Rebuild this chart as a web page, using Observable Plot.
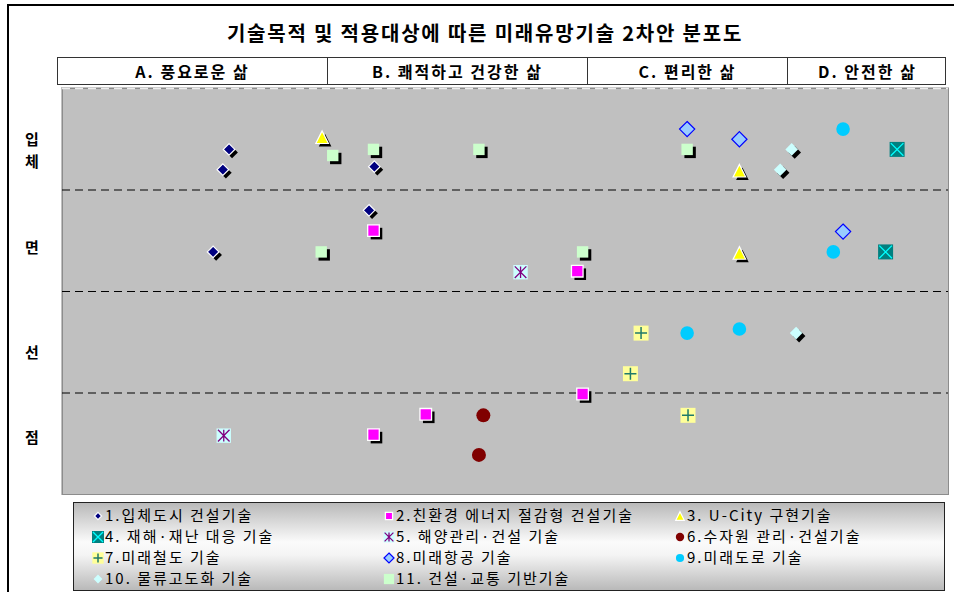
<!DOCTYPE html>
<html><head><meta charset="utf-8">
<script src="https://cdn.jsdelivr.net/npm/d3@7"></script>
<script src="https://cdn.jsdelivr.net/npm/@observablehq/plot@0.6"></script>
<style>
body{margin:0;background:#fff;font-family:"Noto Sans CJK KR","Noto Sans",sans-serif;color:#000;}
#wrap{position:relative;width:954px;height:592px;overflow:hidden;}
#frame{position:absolute;left:7px;top:4px;width:960px;height:600px;border-left:2px solid #000;border-top:2px solid #000;}
#title{position:absolute;left:5px;width:960px;top:20px;line-height:26px;text-align:center;font-weight:bold;font-size:20px;letter-spacing:1.8px;}
#header{position:absolute;left:57px;top:57px;width:889px;height:28px;border:1.5px solid #333;box-sizing:border-box;background:#fff;}
.cell{position:absolute;top:0;height:100%;display:flex;align-items:center;justify-content:center;font-weight:bold;font-size:16px;letter-spacing:2px;border-left:1.5px solid #333;box-sizing:border-box;}
.cell:first-child{border-left:none;}
.side{position:absolute;left:22px;width:20px;text-align:center;font-weight:bold;font-size:15px;line-height:18px;}
#plot{position:absolute;left:61px;top:87px;}
#legend{position:absolute;left:73px;top:502px;width:872px;height:89px;box-sizing:border-box;border:1.5px solid #222;background:linear-gradient(to bottom,#b9b9b9 0%,#fbfbfb 45%,#f4f4f4 60%,#b9b9b9 100%);}
#legend svg{position:absolute;left:0;top:0;}
</style></head>
<body><div id="wrap">
<div id="frame"></div>
<div id="title"></div>
<div id="header"></div>
<div id="sides"></div>
<div id="plot"></div>
<div id="legend"></div>
</div>
<script>
// ---- data ----
const title = "기술목적 및 적용대상에 따른 미래유망기술 2차안 분포도";
const purposes = ["A. 풍요로운 삶", "B. 쾌적하고 건강한 삶", "C. 편리한 삶", "D. 안전한 삶"];
const targets = ["입체", "면", "선", "점"];
const seriesNames = [
  "1.입체도시 건설기술", "2.친환경 에너지 절감형 건설기술", "3. U-City 구현기술",
  "4. 재해·재난 대응 기술", "5. 해양관리·건설 기술", "6.수자원 관리·건설기술",
  "7.미래철도 기술", "8.미래항공 기술", "9.미래도로 기술",
  "10. 물류고도화 기술", "11. 건설·교통 기반기술"
];
const bandBreaks = [1, 2, 3];
const s1 = [[18.8,3.40],[18.1,3.20],[35.2,3.23],[34.6,2.80],[17.0,2.39]];
const s2 = [[35.1,2.60],[58.1,2.20],[41.0,0.79],[35.1,0.59],[58.7,0.99]];
const s3 = [[29.3,3.52],[76.4,3.19],[76.4,2.38]];
const s4 = [[94.2,3.40],[92.9,2.39]];
const s5 = [[51.7,2.19],[18.2,0.58]];
const s6 = [[47.5,0.78],[47.0,0.39]];
const s7 = [[65.3,1.59],[64.1,1.19],[70.6,0.78]];
const s8 = [[70.5,3.60],[76.4,3.50],[88.1,2.59]];
const s9 = [[88.1,3.60],[87.0,2.39],[70.5,1.59],[76.4,1.63]];
const s10 = [[82.3,3.40],[81.0,3.20],[82.8,1.59]];
const s11 = [[30.5,3.34],[35.1,3.40],[47.0,3.40],[29.2,2.39],[70.5,3.40],[58.7,2.39]];
const seriesPoints = [s1,s2,s3,s4,s5,s6,s7,s8,s9,s10,s11];

document.getElementById("title").textContent = title;

// ---- header & side labels ----
const colEdges = [0, 269, 529, 729, 889];
const header = document.getElementById("header");
purposes.forEach((p,i)=>{
  const d = document.createElement("div");
  d.className = "cell"; d.textContent = p;
  d.style.left = colEdges[i] + "px"; d.style.width = (colEdges[i+1]-colEdges[i]) + "px";
  header.appendChild(d);
});
const sideTops = [130, 238, 343, 428];
const sides = document.getElementById("sides");
targets.forEach((t,i)=>{
  Array.from(t).forEach((ch,j)=>{
    const d = document.createElement("div");
    d.className = "side"; d.style.top = (sideTops[i] + j * 22) + "px";
    d.textContent = ch;
    sides.appendChild(d);
  });
});

// ---- symbols ----
const sym = fn => ({draw(c, size){ fn(c, Math.sqrt(size/Math.PI)); }});
const SQ = sym((c,r)=>{c.moveTo(-r,-r);c.lineTo(r,-r);c.lineTo(r,r);c.lineTo(-r,r);c.closePath();});
const DIA = sym((c,r)=>{c.moveTo(0,-r);c.lineTo(r,0);c.lineTo(0,r);c.lineTo(-r,0);c.closePath();});
const TRI = sym((c,r)=>{c.moveTo(0,-r);c.lineTo(r,r);c.lineTo(-r,r);c.closePath();});
const XS = sym((c,r)=>{c.moveTo(-r,-r);c.lineTo(r,r);c.moveTo(-r,r);c.lineTo(r,-r);});
const AST = sym((c,r)=>{c.moveTo(-r,-r);c.lineTo(r,r);c.moveTo(-r,r);c.lineTo(r,-r);c.moveTo(0,-r);c.lineTo(0,r);});
const PLUS = sym((c,r)=>{c.moveTo(-r,0);c.lineTo(r,0);c.moveTo(0,-r);c.lineTo(0,r);});
const CIRC = sym((c,r)=>{c.moveTo(r,0);c.arc(0,0,r,0,2*Math.PI);c.closePath();});

// styles per series: list of layers
const styles = [
  {shadow:true, layers:[{symbol:DIA, r:5.8, fill:"#000080", stroke:"#fff", strokeWidth:1.2}]},
  {shadow:true, layers:[{symbol:SQ, r:5.8, fill:"#ff00ff", stroke:"#fff", strokeWidth:1.3}]},
  {shadow:true, layers:[{symbol:TRI, r:6.3, fill:"#ffff00", stroke:"#fff", strokeWidth:1.2}]},
  {shadow:false, layers:[{symbol:SQ, r:7.5, fill:"#008080"},{symbol:XS, r:6.3, stroke:"#00ffff", strokeWidth:1.3, fill:"none"}]},
  {shadow:false, layers:[{symbol:SQ, r:7.2, fill:"#ccffff"},{symbol:AST, r:5.8, stroke:"#800080", strokeWidth:1.3, fill:"none"}]},
  {shadow:false, layers:[{symbol:CIRC, r:7, fill:"#800000"}]},
  {shadow:false, layers:[{symbol:SQ, r:7.5, fill:"#ffff99"},{symbol:PLUS, r:6, stroke:"#1f7a6a", strokeWidth:1.5, fill:"none"}]},
  {shadow:false, layers:[{symbol:DIA, r:7.6, fill:"#99ccff", stroke:"#0000ff", strokeWidth:1.2}]},
  {shadow:false, layers:[{symbol:CIRC, r:6.8, fill:"#00ccff"}]},
  {shadow:true, layers:[{symbol:DIA, r:6.3, fill:"#ccffff"}]},
  {shadow:true, layers:[{symbol:SQ, r:5.7, fill:"#ccffcc"}]}
];

const tables = seriesPoints.map((pts,i)=>pts.map(([x,y])=>({series:seriesNames[i], x, y})));
const marks = [
  Plot.frame({stroke:"#8c8c8c"}),
  Plot.ruleY([4], {stroke:"#ececec", strokeDasharray:"8,5", strokeWidth:1.5}),
  Plot.ruleY(bandBreaks, {stroke:"#000", strokeDasharray:"8,5", strokeWidth:1.2})
];
tables.forEach((data,i)=>{
  const st = styles[i];
  if (st.shadow) {
    const L = st.layers[0];
    marks.push(Plot.dot(data, {x:"x", y:"y", symbol:L.symbol, r:L.r, fill:"#000", dx:3, dy:3}));
  }
  st.layers.forEach(L=>{
    marks.push(Plot.dot(data, {x:"x", y:"y", symbol:L.symbol, r:L.r, fill:L.fill, stroke:L.stroke || "none", strokeWidth:L.strokeWidth || 1}));
  });
});

const chart = Plot.plot({
  width: 888, height: 408,
  marginLeft: 1, marginRight: 1, marginTop: 1, marginBottom: 1,
  x: {domain: [0, 100], axis: null},
  y: {domain: [0, 4], axis: null},
  style: {background: "#c0c0c0", overflow: "visible"},
  marks
});
document.getElementById("plot").appendChild(chart);

// ---- legend ----
const legendScale = [0.62, 0.62, 0.68, 0.8, 0.76, 0.6, 0.76, 0.66, 0.6, 0.7, 0.9];
const lw = 869, lh = 86;
const svg = d3.select("#legend").append("svg").attr("width", lw).attr("height", lh);
const colX = [24, 315, 606];
const rowY = [13, 34, 55, 76];
seriesNames.forEach((name,i)=>{
  const cx = colX[i % 3], cy = rowY[Math.floor(i / 3)];
  const g = svg.append("g").attr("transform", `translate(${cx},${cy})`);
  styles[i].layers.forEach(L=>{
    const r = L.r * legendScale[i];
    g.append("path")
      .attr("d", d3.symbol(L.symbol, Math.PI * r * r)())
      .attr("fill", L.fill || "none")
      .attr("stroke", L.stroke || "none")
      .attr("stroke-width", L.strokeWidth || 1);
  });
  svg.append("text").attr("x", cx + 7).attr("y", cy).attr("dy", "0.36em")
    .attr("font-size", 15).attr("letter-spacing", "2px")
    .attr("font-family", '"Noto Sans CJK KR", sans-serif').text(name);
});
</script>
</body></html>
